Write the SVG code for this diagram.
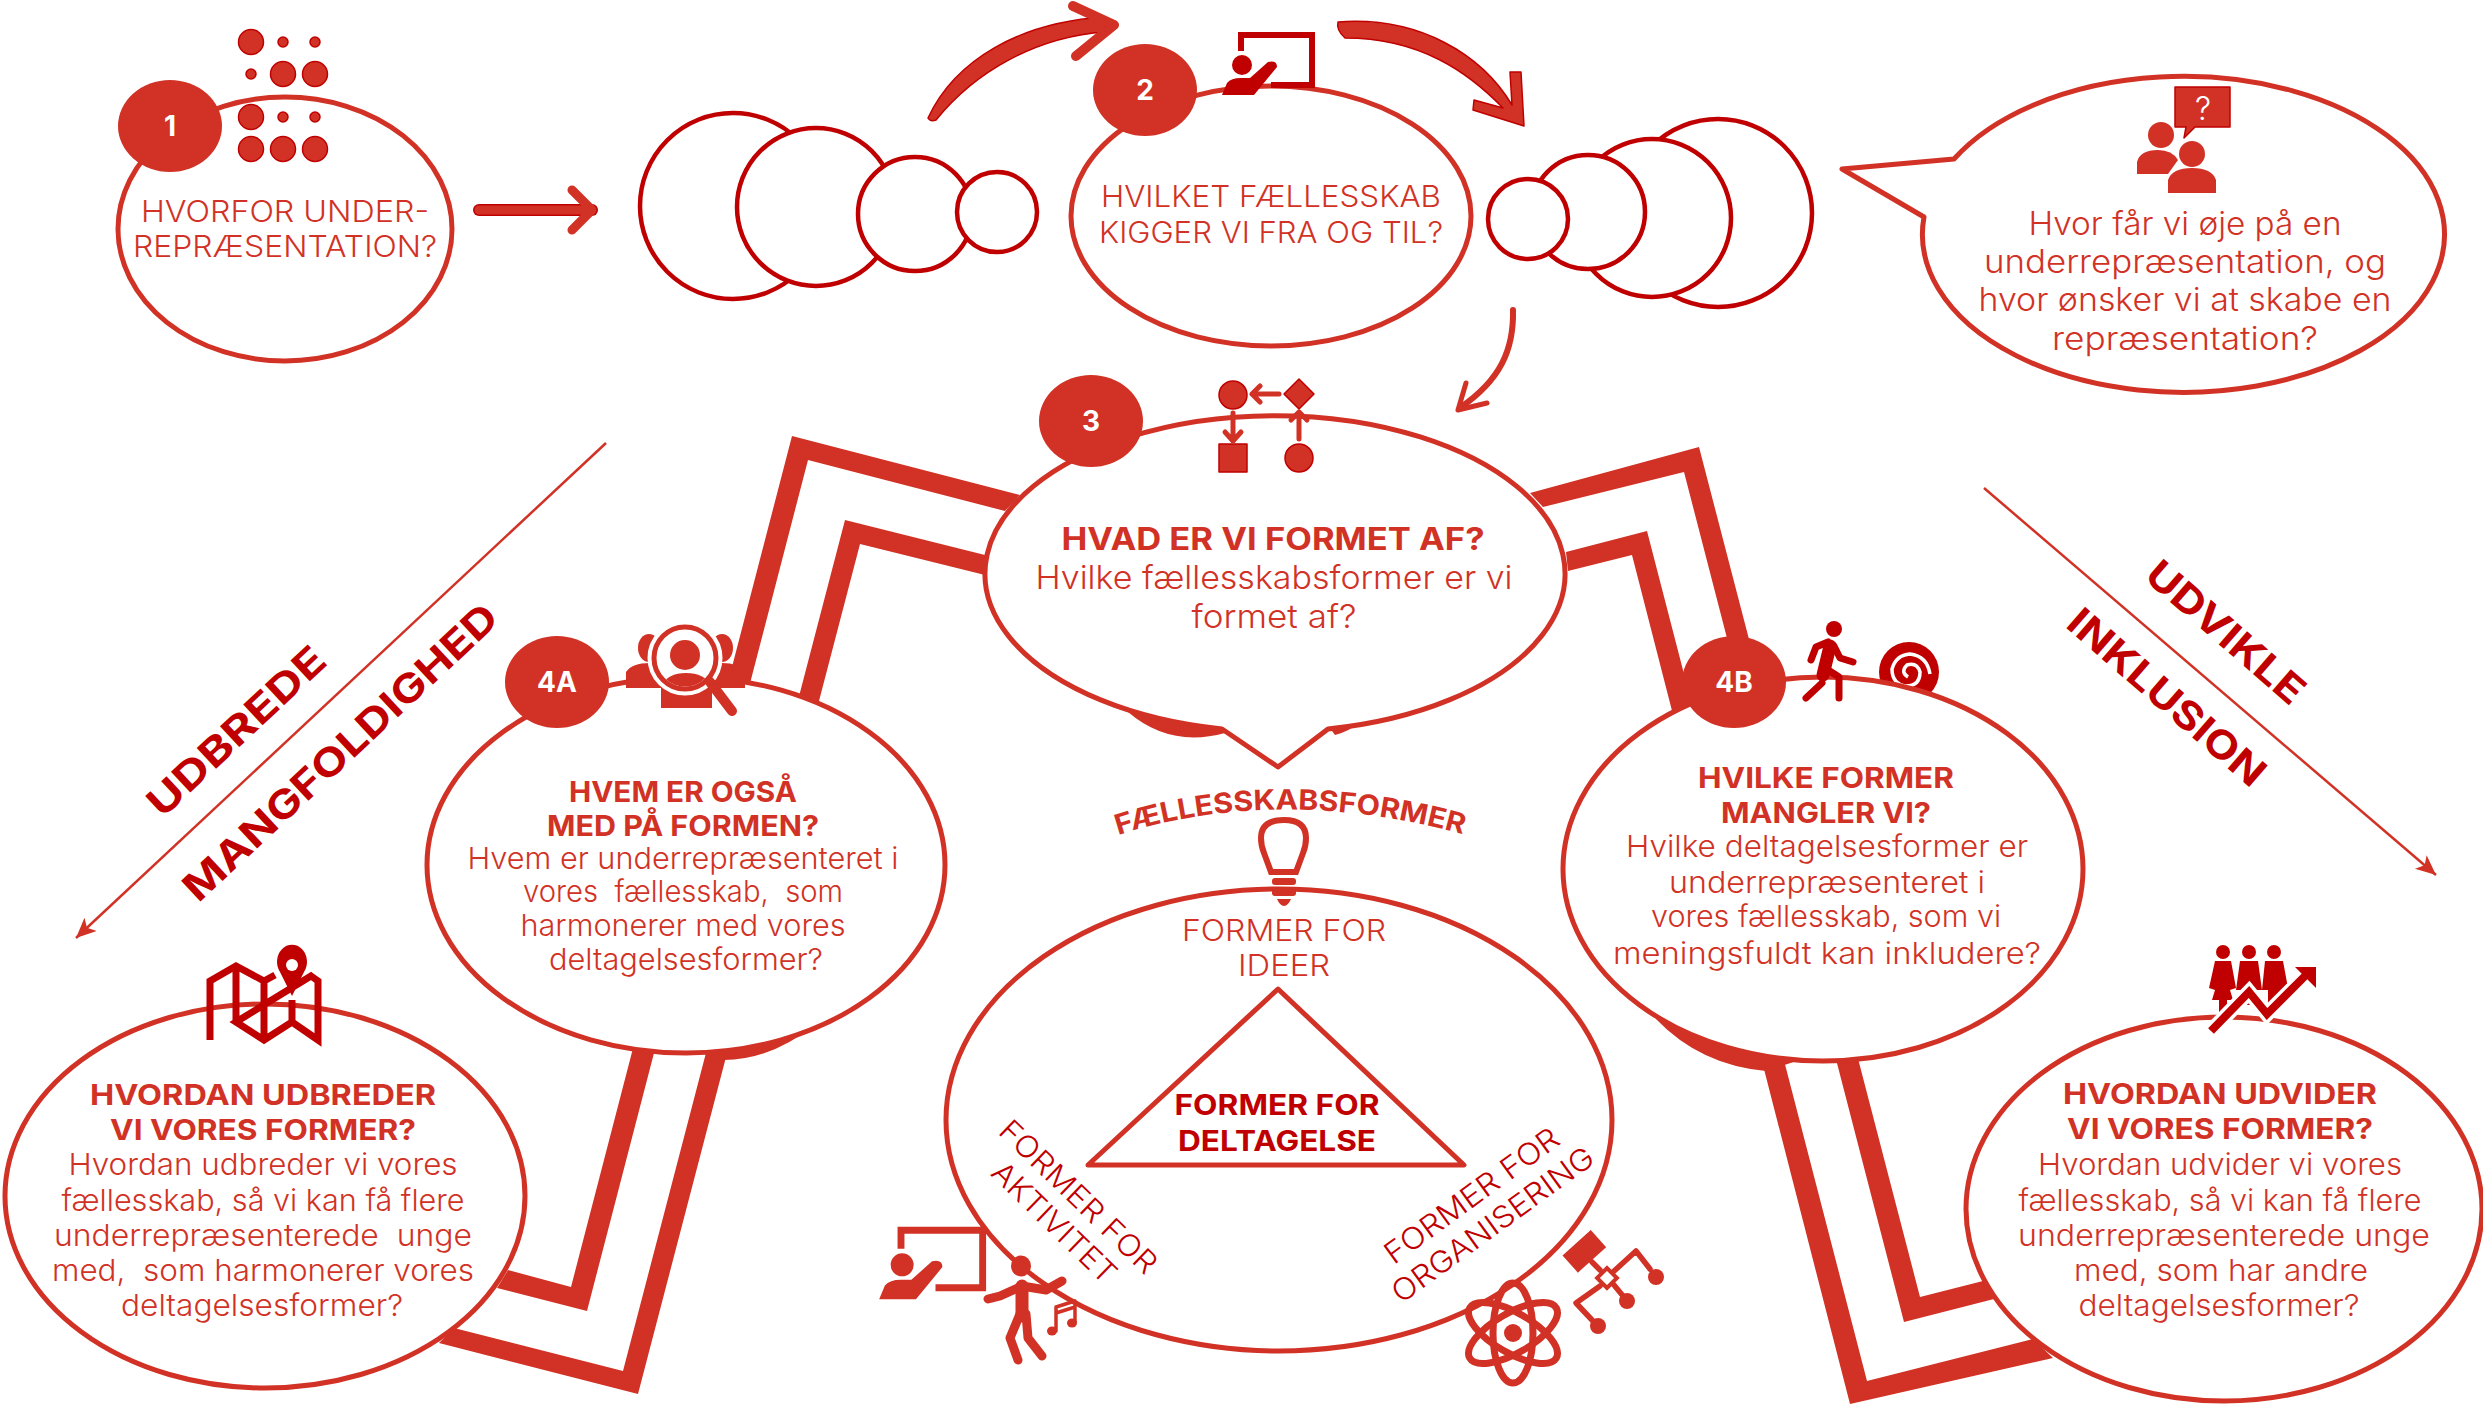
<svg xmlns="http://www.w3.org/2000/svg" width="2483" height="1404" viewBox="0 0 2483 1404">
<style>
text{font-family:Inter,"Open Sans","Liberation Sans",sans-serif;fill:#D13225;text-anchor:middle;white-space:pre}
.t{font-size:30px;font-weight:300}
.h{font-size:29px;font-weight:700}
.d{fill:#C00000}
.n{font-size:28px;font-weight:700;fill:#fff}
.dg{font-size:39px;font-weight:700;fill:#C00000}
.e{fill:#fff;stroke:#D13225;stroke-width:5}
.o{fill:#fff;stroke:#C00000;stroke-width:4.5}
.r{fill:#D13225}
.rd{fill:#D13225;stroke:#C00000;stroke-width:1.5;stroke-linejoin:round}
.k{fill:#C00000}
.sr{fill:none;stroke:#D13225;stroke-linecap:round;stroke-linejoin:round}
.sk{fill:none;stroke:#C00000;stroke-linecap:round;stroke-linejoin:round}
</style>
<defs>
<marker id="tip" markerUnits="userSpaceOnUse" markerWidth="24" markerHeight="20" refX="20" refY="9" orient="auto"><path d="M0,0 L20,9 L0,18 L5,9 Z" fill="#D13225"/></marker>
<g id="teach">
<path d="M0,18 V2 H71 V52 H30" fill="none" stroke="currentColor" stroke-width="6"/>
<circle cx="1" cy="32" r="10" fill="currentColor"/>
<path d="M-19,62 L-14,50 Q-10,45 0,45 L9,45 L27,29 Q36,27 36,34 L13,62 Z" fill="currentColor"/>
</g>
</defs>

<g id="connectors">
<path d="M1530,493 L1699,447 L1920,1297 L1983,1281 L1994,1299 L1904,1322 L1684,472 L1543,507 Z" class="r"/>
<path d="M1566,552 L1647,531 L1867,1381 L2033,1339 L2053,1358 L1850,1404 L1632,555 L1568,571 Z" class="r"/>
<path d="M1020,495 L792,436 L571,1287 L508,1270 L497,1288 L587,1311 L808,460 L1005,511 Z" class="r"/>
<path d="M985,555 L845,520 L623,1371 L454,1328 L439,1343 L638,1394 L860,544 L985,575 Z" class="r"/>
<path d="M1128,712 Q1170,748 1225,733 L1240,715 Z" class="r"/>
<path d="M1335,735 Q1350,731 1360,722 L1320,715 Z" class="r"/>
<path d="M695,1050 L724,1060 Q770,1060 815,1025 L760,1025 Z" class="r"/>
<path d="M1656,1019 Q1700,1065 1766,1071 L1800,1060 L1700,1020 Z" class="r"/>
<path d="M479,210 H592" class="sr" style="stroke:#C00000;stroke-width:12"/>
<path d="M479,210 H592 M572,190 L592,210 L572,230" class="sr" style="stroke-width:9"/>
<path d="M928,118 C955,60 1020,22 1105,17 L1105,32 C1035,37 975,72 936,120 Q930,122 928,118 Z" class="rd"/>
<path d="M1073,6 L1114,25 L1076,56" class="sr" style="stroke-width:10"/>
<path d="M1338,22 C1420,16 1482,55 1512,105 L1510,72 L1521,72 L1524,126 L1473,110 L1474,100 L1503,108 C1468,72 1420,38 1345,38 Q1336,30 1338,22 Z" class="rd"/>
<path d="M1513,310 C1514,350 1500,380 1461,407" class="sr" style="stroke-width:6"/>
<path d="M1466,383 L1458,410 L1487,403" class="sr" style="stroke-width:5"/>
<path d="M606,443 L76,938" stroke="#D13225" stroke-width="2.5" fill="none" marker-end="url(#tip)"/>
<path d="M1984,488 L2436,875" stroke="#D13225" stroke-width="2.5" fill="none" marker-end="url(#tip)"/>
</g>

<g id="rings-left">
<circle cx="733" cy="206" r="93" class="o"/>
<circle cx="816" cy="207" r="79" class="o"/>
<circle cx="915" cy="214" r="57" class="o"/>
<circle cx="997" cy="212" r="40" class="o"/>
</g>
<g id="rings-right">
<circle cx="1718" cy="213" r="94" class="o"/>
<circle cx="1652" cy="218" r="79" class="o"/>
<circle cx="1588" cy="212" r="57" class="o"/>
<circle cx="1528" cy="219" r="40" class="o"/>
</g>

<g id="node-1">
<ellipse cx="285" cy="229" rx="167" ry="132" class="e"/>
<ellipse cx="170" cy="126" rx="52" ry="46" class="r"/>
<text class="n" x="170" y="136">1</text>
<g class="rd">
<circle cx="251" cy="42" r="12.5"/><circle cx="283" cy="42" r="5"/><circle cx="315" cy="42" r="5"/>
<circle cx="251" cy="74" r="5"/><circle cx="283" cy="74" r="12.5"/><circle cx="315" cy="74" r="12.5"/>
<circle cx="251" cy="117" r="12.5"/><circle cx="283" cy="117" r="5"/><circle cx="315" cy="117" r="5"/>
<circle cx="251" cy="149" r="12.5"/><circle cx="283" cy="149" r="12.5"/><circle cx="315" cy="149" r="12.5"/>
</g>
<text class="t" x="285" y="222" textLength="288" lengthAdjust="spacingAndGlyphs">HVORFOR UNDER-</text>
<text class="t" x="285" y="257" textLength="304" lengthAdjust="spacingAndGlyphs">REPRÆSENTATION?</text>
</g>

<g id="node-2">
<ellipse cx="1271" cy="216" rx="200" ry="130" class="e"/>
<ellipse cx="1145" cy="90" rx="52" ry="46" class="r"/>
<text class="n" x="1145" y="100">2</text>
<use href="#teach" x="1241" y="33" color="#C00000"/>
<text class="t" x="1271" y="207" textLength="340" lengthAdjust="spacingAndGlyphs">HVILKET FÆLLESSKAB</text>
<text class="t" x="1271" y="243" textLength="344" lengthAdjust="spacingAndGlyphs">KIGGER VI FRA OG TIL?</text>
</g>

<g id="callout">
<path d="M1842,169 L1954,159 A261,158 0 1 1 1924,217 Z" class="e" stroke-linejoin="round"/>
<path d="M2175,87 H2230 V127 H2195 L2184,138 L2186,127 H2175 Z" class="rd"/>
<text x="2203" y="120" style="font-size:32px;font-weight:300;fill:#fff">?</text>
<circle cx="2161" cy="135" r="13" class="r"/>
<path d="M2137,174 V162 Q2140,150 2158,150 Q2172,150 2178,160 L2168,174 Z" class="r"/>
<circle cx="2192" cy="154" r="13" class="r"/>
<path d="M2168,193 V180 Q2172,168 2192,168 Q2212,168 2216,180 V193 Z" class="r"/>
<text class="t" x="2185" y="235" style="font-size:32px" textLength="313" lengthAdjust="spacingAndGlyphs">Hvor får vi øje på en</text>
<text class="t" x="2185" y="273" style="font-size:32px" textLength="402" lengthAdjust="spacingAndGlyphs">underrepræsentation, og</text>
<text class="t" x="2185" y="311" style="font-size:32px" textLength="413" lengthAdjust="spacingAndGlyphs">hvor ønsker vi at skabe en</text>
<text class="t" x="2185" y="350" style="font-size:32px" textLength="266" lengthAdjust="spacingAndGlyphs">repræsentation?</text>
</g>

<g id="node-3">
<path d="M1278,767 L1222,729 A290,158 0 1 1 1328,729 Z" class="e" stroke-linejoin="round"/>
<ellipse cx="1091" cy="421" rx="52" ry="46" class="r"/>
<text class="n" x="1091" y="431">3</text>
<circle cx="1233" cy="395" r="14" class="rd"/>
<rect x="1219" y="444" width="28" height="28" class="rd"/>
<circle cx="1299" cy="458" r="14" class="rd"/>
<path d="M1299,379 L1314,394 L1299,409 L1284,394 Z" class="rd"/>
<path d="M1279,394 H1252 M1260,386 L1252,394 L1260,402" class="sr" style="stroke-width:5"/>
<path d="M1233,413 V441 M1225,432 L1233,441 L1241,432" class="sr" style="stroke-width:5"/>
<path d="M1299,439 V412 M1291,420 L1299,412 L1307,420" class="sr" style="stroke-width:5"/>
<text class="h" x="1273" y="550" style="font-size:31px" textLength="423" lengthAdjust="spacingAndGlyphs">HVAD ER VI FORMET AF?</text>
<text class="t" x="1274" y="589" style="font-size:33px" textLength="477" lengthAdjust="spacingAndGlyphs">Hvilke fællesskabsformer er vi</text>
<text class="t" x="1274" y="628" style="font-size:33px" textLength="165" lengthAdjust="spacingAndGlyphs">formet af?</text>
</g>

<g id="node-4a">
<ellipse cx="686" cy="865" rx="259" ry="188" class="e"/>
<ellipse cx="557" cy="682" rx="52" ry="46" class="r"/>
<text class="n" x="557" y="692">4A</text>
<ellipse cx="649" cy="648" rx="11" ry="14" class="r"/><ellipse cx="722" cy="648" rx="11" ry="14" class="r"/>
<path d="M626,688 V672 Q632,663 650,663 L662,688 Z M745,688 V672 Q739,663 722,663 L708,688 Z" class="r"/>
<circle cx="685" cy="660" r="35" fill="#fff"/>
<ellipse cx="685" cy="655" rx="15" ry="15" class="r"/>
<path d="M661,708 V686 Q668,673 686,673 Q704,673 712,686 V708 Z" class="r"/>
<circle cx="685" cy="658" r="33" fill="none" stroke="#fff" stroke-width="9"/>
<circle cx="685" cy="658" r="31" fill="none" stroke="#D13225" stroke-width="5"/>
<path d="M710,682 L732,711" class="sr" style="stroke-width:10"/>
<text class="h" x="683" y="802" textLength="228" lengthAdjust="spacingAndGlyphs">HVEM ER OGSÅ</text>
<text class="h" x="683" y="836" textLength="272" lengthAdjust="spacingAndGlyphs">MED PÅ FORMEN?</text>
<text class="t" x="683" y="869" textLength="431" lengthAdjust="spacingAndGlyphs">Hvem er underrepræsenteret i</text>
<text class="t" x="683" y="902" textLength="320" lengthAdjust="spacingAndGlyphs">vores  fællesskab,  som</text>
<text class="t" x="683" y="936" textLength="325" lengthAdjust="spacingAndGlyphs">harmonerer med vores</text>
<text class="t" x="686" y="970" textLength="274" lengthAdjust="spacingAndGlyphs">deltagelsesformer?</text>
</g>

<g id="node-4b">
<circle cx="1909" cy="672" r="30" class="k"/>
<path d="M1908,677 Q1900,672 1907,665 Q1917,662 1920,672 Q1920,686 1906,686 Q1892,684 1892,669 Q1896,655 1910,654 Q1927,656 1930,674" fill="none" stroke="#fff" stroke-width="3.5"/>
<ellipse cx="1823" cy="869" rx="260" ry="192" class="e"/>
<ellipse cx="1734" cy="682" rx="52" ry="46" class="r"/>
<text class="n" x="1734" y="692">4B</text>
<circle cx="1834" cy="629" r="8" class="k"/>
<path d="M1830,646 L1823,675" class="sk" style="stroke-width:13"/>
<path d="M1828,642 L1816,647 L1811,660 M1834,646 L1840,658 L1853,662 M1822,683 L1806,698 M1825,668 L1839,677 V698" class="sk" style="stroke-width:7"/>
<text class="h" x="1826" y="788" textLength="256" lengthAdjust="spacingAndGlyphs">HVILKE FORMER</text>
<text class="h" x="1826" y="823" textLength="210" lengthAdjust="spacingAndGlyphs">MANGLER VI?</text>
<text class="t" x="1827" y="857" textLength="402" lengthAdjust="spacingAndGlyphs">Hvilke deltagelsesformer er</text>
<text class="t" x="1827" y="893" textLength="316" lengthAdjust="spacingAndGlyphs">underrepræsenteret i</text>
<text class="t" x="1826" y="927" textLength="350" lengthAdjust="spacingAndGlyphs">vores fællesskab, som vi</text>
<text class="t" x="1827" y="964" textLength="428" lengthAdjust="spacingAndGlyphs">meningsfuldt kan inkludere?</text>
</g>

<g id="node-5a">
<ellipse cx="265" cy="1196" rx="260" ry="192" class="e"/>
<path d="M210,1040 V981 L236,966 L264,981 L275,975 M311,976 L318,981 V1040 L292,1022 L264,1040 L236,1022 Z M236,966 V1022 M264,981 V1040 M292,1000 V1022" class="sk" style="stroke-width:7;stroke-linecap:butt;stroke-linejoin:miter"/>
<path d="M292,996 L280,972 A15,17 0 1 1 304,972 Z" class="k"/>
<circle cx="292" cy="965" r="6" fill="#fff"/>
<text class="h" x="263" y="1105" textLength="346" lengthAdjust="spacingAndGlyphs">HVORDAN UDBREDER</text>
<text class="h" x="263" y="1140" textLength="306" lengthAdjust="spacingAndGlyphs">VI VORES FORMER?</text>
<text class="t" x="263" y="1175" textLength="389" lengthAdjust="spacingAndGlyphs">Hvordan udbreder vi vores</text>
<text class="t" x="263" y="1211" textLength="403" lengthAdjust="spacingAndGlyphs">fællesskab, så vi kan få flere</text>
<text class="t" x="263" y="1246" textLength="418" lengthAdjust="spacingAndGlyphs">underrepræsenterede  unge</text>
<text class="t" x="263" y="1281" textLength="422" lengthAdjust="spacingAndGlyphs">med,  som harmonerer vores</text>
<text class="t" x="262" y="1316" textLength="282" lengthAdjust="spacingAndGlyphs">deltagelsesformer?</text>
</g>

<g id="node-5b">
<ellipse cx="2224" cy="1209" rx="258" ry="192" class="e"/>
<circle cx="2223" cy="952" r="7" class="k"/><circle cx="2249" cy="952" r="7" class="k"/><circle cx="2274" cy="952" r="7" class="k"/>
<path d="M2215,961 H2231 L2236,988 L2230,990 L2233,1000 H2227 V1012 H2219 V1000 H2212 L2215,990 L2209,988 Z" class="k"/>
<path d="M2240,961 H2258 L2262,990 L2256,990 V1005 H2242 V990 L2236,990 Z" class="k"/>
<path d="M2265,961 H2283 L2288,988 L2282,990 V1010 H2268 V990 L2262,990 Z" class="k"/>
<path d="M2211,1031 L2249,992 L2267,1014 L2308,973" fill="none" stroke="#fff" stroke-width="15"/>
<path d="M2211,1031 L2249,992 L2267,1014 L2308,973" fill="none" stroke="#C00000" stroke-width="8"/>
<path d="M2295,967 H2316 V988 Z" class="k"/>
<text class="h" x="2220" y="1104" textLength="314" lengthAdjust="spacingAndGlyphs">HVORDAN UDVIDER</text>
<text class="h" x="2220" y="1139" textLength="306" lengthAdjust="spacingAndGlyphs">VI VORES FORMER?</text>
<text class="t" x="2220" y="1175" textLength="364" lengthAdjust="spacingAndGlyphs">Hvordan udvider vi vores</text>
<text class="t" x="2220" y="1211" textLength="403" lengthAdjust="spacingAndGlyphs">fællesskab, så vi kan få flere</text>
<text class="t" x="2224" y="1246" textLength="412" lengthAdjust="spacingAndGlyphs">underrepræsenterede unge</text>
<text class="t" x="2221" y="1281" textLength="294" lengthAdjust="spacingAndGlyphs">med, som har andre</text>
<text class="t" x="2219" y="1316" textLength="281" lengthAdjust="spacingAndGlyphs">deltagelsesformer?</text>
</g>

<g id="forms">
<path id="arc" d="M1118,835 Q1280,784 1466,835" fill="none"/>
<text style="font-size:28px;font-weight:700;text-anchor:start"><textPath href="#arc" textLength="350" lengthAdjust="spacingAndGlyphs">FÆLLESSKABSFORMER</textPath></text>
<ellipse cx="1279" cy="1120" rx="333" ry="231" class="e"/>
<path d="M1278,989 L1464,1165 L1088,1165 Z" fill="#fff" stroke="#D13225" stroke-width="5" stroke-linejoin="round"/>
<path d="M1271,872 L1264,853 Q1261,846 1261,838 Q1261,820 1284,820 Q1306,820 1306,838 Q1306,846 1303,853 L1296,872 Z" fill="#fff" stroke="#D13225" stroke-width="6"/>
<rect x="1272" y="878" width="24" height="7" rx="3" class="r"/><rect x="1272" y="889" width="24" height="7" rx="3" class="r"/>
<path d="M1277,899 H1291 Q1288,906 1284,906 Q1280,906 1277,899 Z" class="r"/>
<text class="t" x="1284" y="941" style="font-size:30px" textLength="204" lengthAdjust="spacingAndGlyphs">FORMER FOR</text>
<text class="t" x="1284" y="976" style="font-size:30px" textLength="92" lengthAdjust="spacingAndGlyphs">IDEER</text>
<text class="h d" x="1277" y="1115" textLength="205" lengthAdjust="spacingAndGlyphs">FORMER FOR</text>
<text class="h d" x="1277" y="1151" textLength="198" lengthAdjust="spacingAndGlyphs">DELTAGELSE</text>
<text class="t d" transform="translate(1078,1197) rotate(44)" y="10" textLength="206" lengthAdjust="spacingAndGlyphs">FORMER FOR</text>
<text class="t d" transform="translate(1054,1223) rotate(44)" y="10" textLength="160" lengthAdjust="spacingAndGlyphs">AKTIVITET</text>
<text class="t d" transform="translate(1472,1196) rotate(-36)" y="10" textLength="208" lengthAdjust="spacingAndGlyphs">FORMER FOR</text>
<text class="t d" transform="translate(1493,1225) rotate(-36)" y="10" textLength="242" lengthAdjust="spacingAndGlyphs">ORGANISERING</text>
<use href="#teach" x="901" y="1228" color="#D13225" transform="translate(901,1228) scale(1.15) translate(-901,-1228)"/>
<ellipse cx="1021" cy="1266" rx="10" ry="10.5" class="r"/>
<path d="M1022,1286 V1316" class="sr" style="stroke-width:13"/>
<path d="M1022,1286 L1000,1296 L988,1299 M1022,1286 L1046,1290 L1062,1281 M1020,1314 L1010,1338 L1018,1360 M1026,1314 L1028,1338 L1042,1356" class="sr" style="stroke-width:9"/>
<path d="M1056,1331 V1307 L1075,1301 V1322 M1056,1313 L1075,1307" class="sr" style="stroke-width:3.5"/>
<ellipse cx="1052" cy="1331" rx="5" ry="4.5" class="r"/><ellipse cx="1072" cy="1323" rx="5" ry="4.5" class="r"/>
<g fill="none" stroke="#D13225" stroke-width="7">
<ellipse cx="1513" cy="1333" rx="20" ry="50"/>
<ellipse cx="1513" cy="1333" rx="20" ry="50" transform="rotate(60 1513 1333)"/>
<ellipse cx="1513" cy="1333" rx="20" ry="50" transform="rotate(-60 1513 1333)"/>
</g>
<circle cx="1513" cy="1333" r="9" class="r"/>
<rect x="1565" y="1240" width="38" height="23" transform="rotate(-42 1584 1251)" class="r"/>
<rect x="1600" y="1271" width="14" height="14" fill="none" stroke="#D13225" stroke-width="4" transform="rotate(45 1607 1278)"/>
<path d="M1600,1270 L1592,1262 M1613,1272 L1636,1251 L1650,1269 M1614,1285 L1623,1296 M1600,1286 L1576,1303 L1592,1320" class="sr" style="stroke-width:5.5"/>
<circle cx="1656" cy="1277" r="8" class="r"/><circle cx="1627" cy="1301" r="8" class="r"/><circle cx="1598" cy="1326" r="8" class="r"/>
</g>

<g id="axis-labels">
<text class="dg" transform="translate(236,731) rotate(-43)" y="14" textLength="228" lengthAdjust="spacingAndGlyphs">UDBREDE</text>
<text class="dg" transform="translate(340,752) rotate(-43)" y="14" textLength="414" lengthAdjust="spacingAndGlyphs">MANGFOLDIGHED</text>
<text class="dg" transform="translate(2226,632) rotate(41)" y="14" textLength="196" lengthAdjust="spacingAndGlyphs">UDVIKLE</text>
<text class="dg" transform="translate(2167,697) rotate(41)" y="14" textLength="248" lengthAdjust="spacingAndGlyphs">INKLUSION</text>
</g>
</svg>
